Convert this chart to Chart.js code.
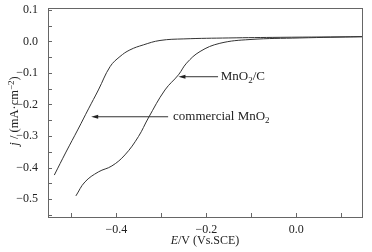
<!DOCTYPE html>
<html>
<head>
<meta charset="utf-8">
<script src="https://cdn.jsdelivr.net/npm/chart.js@4"></script>
<style>
  html, body { margin: 0; padding: 0; background: #fff; }
  #wrap { width: 372px; height: 252px; position: relative; }
</style>
</head>
<body>
<div id="wrap"><canvas id="c"></canvas></div>
<script>
// potential (V vs SCE) and current density (mA/cm2)
const eCommercial = [-0.538, -0.512, -0.485, -0.462, -0.440, -0.414, -0.392, -0.370, -0.340, -0.303, -0.250, -0.150, -0.036, 0.146];
const jCommercial = [-0.424, -0.351, -0.278, -0.214, -0.154, -0.080, -0.048, -0.027, -0.011, 0.003, 0.008, 0.011, 0.013, 0.015];

const eMnO2C = [-0.490, -0.470, -0.440, -0.410, -0.381, -0.351, -0.329, -0.292, -0.262, -0.244, -0.214, -0.170, -0.103, 0.008, 0.146];
const jMnO2C = [-0.490, -0.446, -0.414, -0.395, -0.360, -0.302, -0.243, -0.154, -0.106, -0.069, -0.032, -0.006, 0.006, 0.011, 0.015];

const xTickValues = [-0.4, -0.2, 0.0];
const xMinorTicks = [-0.5, -0.3, -0.1, 0.1];
const yTickValues = [0.1, 0.0, -0.1, -0.2, -0.3, -0.4, -0.5];
const yMinorTicks = [0.05, -0.05, -0.15, -0.25, -0.35, -0.45, -0.55];

const SERIF = '"Liberation Serif", "DejaVu Serif", serif';

const toPoints = (xs, ys) => xs.map((x, i) => ({ x: x, y: ys[i] }));
const fmt = (v) => {
  const r = Math.round(v * 10) / 10;
  if (r === 0) return '0.0';
  return (r < 0 ? '\u2212' : '') + Math.abs(r).toFixed(1);
};

// draw text made of pieces (italic, subscript, superscript)
function drawRich(ctx, parts, x, y, size, align) {
  const fontFor = (p) => {
    const s = (p.sub || p.sup) ? Math.round(size * 0.7) : size;
    return (p.italic ? 'italic ' : '') + s + 'px ' + SERIF;
  };
  let total = 0;
  parts.forEach((p) => { ctx.font = fontFor(p); total += ctx.measureText(p.t).width; });
  let cx = align === 'center' ? x - total / 2 : x;
  ctx.textBaseline = 'middle';
  ctx.textAlign = 'left';
  parts.forEach((p) => {
    ctx.font = fontFor(p);
    let dy = 0;
    if (p.sub) dy = size * 0.3;
    if (p.sup) dy = -size * 0.3;
    ctx.fillText(p.t, cx, y + dy);
    cx += ctx.measureText(p.t).width;
  });
}

function arrow(ctx, x1, y1, x2, y2) {
  // line from (x1,y1) to tip (x2,y2)
  ctx.beginPath();
  ctx.moveTo(x1, y1);
  ctx.lineTo(x2 + 5, y2);
  ctx.stroke();
  ctx.beginPath();
  ctx.moveTo(x2, y2);
  ctx.lineTo(x2 + 7, y2 - 2);
  ctx.lineTo(x2 + 7, y2 + 2);
  ctx.closePath();
  ctx.fill();
}

const framePlugin = {
  id: 'frame',
  afterDraw(chart) {
    const { ctx, chartArea: a, scales } = chart;
    const xs = scales.x, ys = scales.y;
    ctx.save();
    ctx.strokeStyle = '#666';
    ctx.lineWidth = 1;
    ctx.strokeRect(a.left + 0.5, a.top + 0.5, a.right - a.left, a.bottom - a.top);

    ctx.beginPath();
    xTickValues.concat(xMinorTicks).forEach((v) => {
      const px = Math.round(xs.getPixelForValue(v)) + 0.5;
      ctx.moveTo(px, a.bottom);
      ctx.lineTo(px, a.bottom - 4);
    });
    yTickValues.concat(yMinorTicks).forEach((v) => {
      const py = Math.round(ys.getPixelForValue(v)) + 0.5;
      ctx.moveTo(a.left, py);
      ctx.lineTo(a.left + 4, py);
    });
    ctx.stroke();

    // arrows and labels
    ctx.strokeStyle = '#333';
    ctx.fillStyle = '#222';
    arrow(ctx, xs.getPixelForValue(-0.285), ys.getPixelForValue(-0.239),
               xs.getPixelForValue(-0.456), ys.getPixelForValue(-0.239));
    arrow(ctx, xs.getPixelForValue(-0.174), ys.getPixelForValue(-0.112),
               xs.getPixelForValue(-0.262), ys.getPixelForValue(-0.112));
    drawRich(ctx, [{ t: 'commercial MnO' }, { t: '2', sub: true }],
      xs.getPixelForValue(-0.274), ys.getPixelForValue(-0.239), 13, 'left');
    drawRich(ctx, [{ t: 'MnO' }, { t: '2', sub: true }, { t: '/C' }],
      xs.getPixelForValue(-0.168), ys.getPixelForValue(-0.112), 13, 'left');

    // axis titles
    drawRich(ctx, [{ t: 'E', italic: true }, { t: '/V (Vs.SCE)' }],
      (a.left + a.right) / 2, 241, 12, 'center');
    ctx.translate(15, 111);
    ctx.rotate(-Math.PI / 2);
    drawRich(ctx, [{ t: 'j', italic: true }, { t: ' / (mA\u00b7cm' }, { t: '\u22122', sup: true }, { t: ')' }],
      0, 0, 12.5, 'center');
    ctx.restore();
  }
};

new Chart(document.getElementById('c'), {
  type: 'scatter',
  data: {
    datasets: [
      {
        label: 'commercial MnO2',
        data: toPoints(eCommercial, jCommercial),
        showLine: true,
        borderColor: '#333',
        borderWidth: 1,
        pointRadius: 0,
        tension: 0.4,
      },
      {
        label: 'MnO2/C',
        data: toPoints(eMnO2C, jMnO2C),
        showLine: true,
        borderColor: '#333',
        borderWidth: 1,
        pointRadius: 0,
        tension: 0.4,
      },
    ],
  },
  options: {
    responsive: true,
    maintainAspectRatio: false,
    animation: false,
    layout: { padding: { top: 8, right: 10, left: 0, bottom: 0 } },
    plugins: { legend: { display: false }, tooltip: { enabled: false } },
    scales: {
      x: {
        type: 'linear',
        min: -0.552,
        max: 0.146,
        grid: { display: false, drawTicks: false },
        border: { display: false },
        afterBuildTicks: (s) => { s.ticks = xTickValues.map((v) => ({ value: v })); },
        afterFit: (s) => { s.height = 35; s.paddingLeft = 0; s.paddingRight = 0; },
        ticks: {
          padding: 6,
          maxRotation: 0,
          color: '#222',
          font: { family: SERIF, size: 12 },
          callback: (v) => fmt(v),
        },
      },
      y: {
        type: 'linear',
        min: -0.557,
        max: 0.106,
        grid: { display: false, drawTicks: false },
        border: { display: false },
        afterBuildTicks: (s) => { s.ticks = yTickValues.map((v) => ({ value: v })); },
        afterFit: (s) => { s.width = 48; s.paddingTop = 0; s.paddingBottom = 0; },
        ticks: {
          padding: 10,
          color: '#222',
          font: { family: SERIF, size: 12 },
          callback: (v) => fmt(v),
        },
      },
    },
  },
  plugins: [framePlugin],
});
</script>
</body>
</html>
